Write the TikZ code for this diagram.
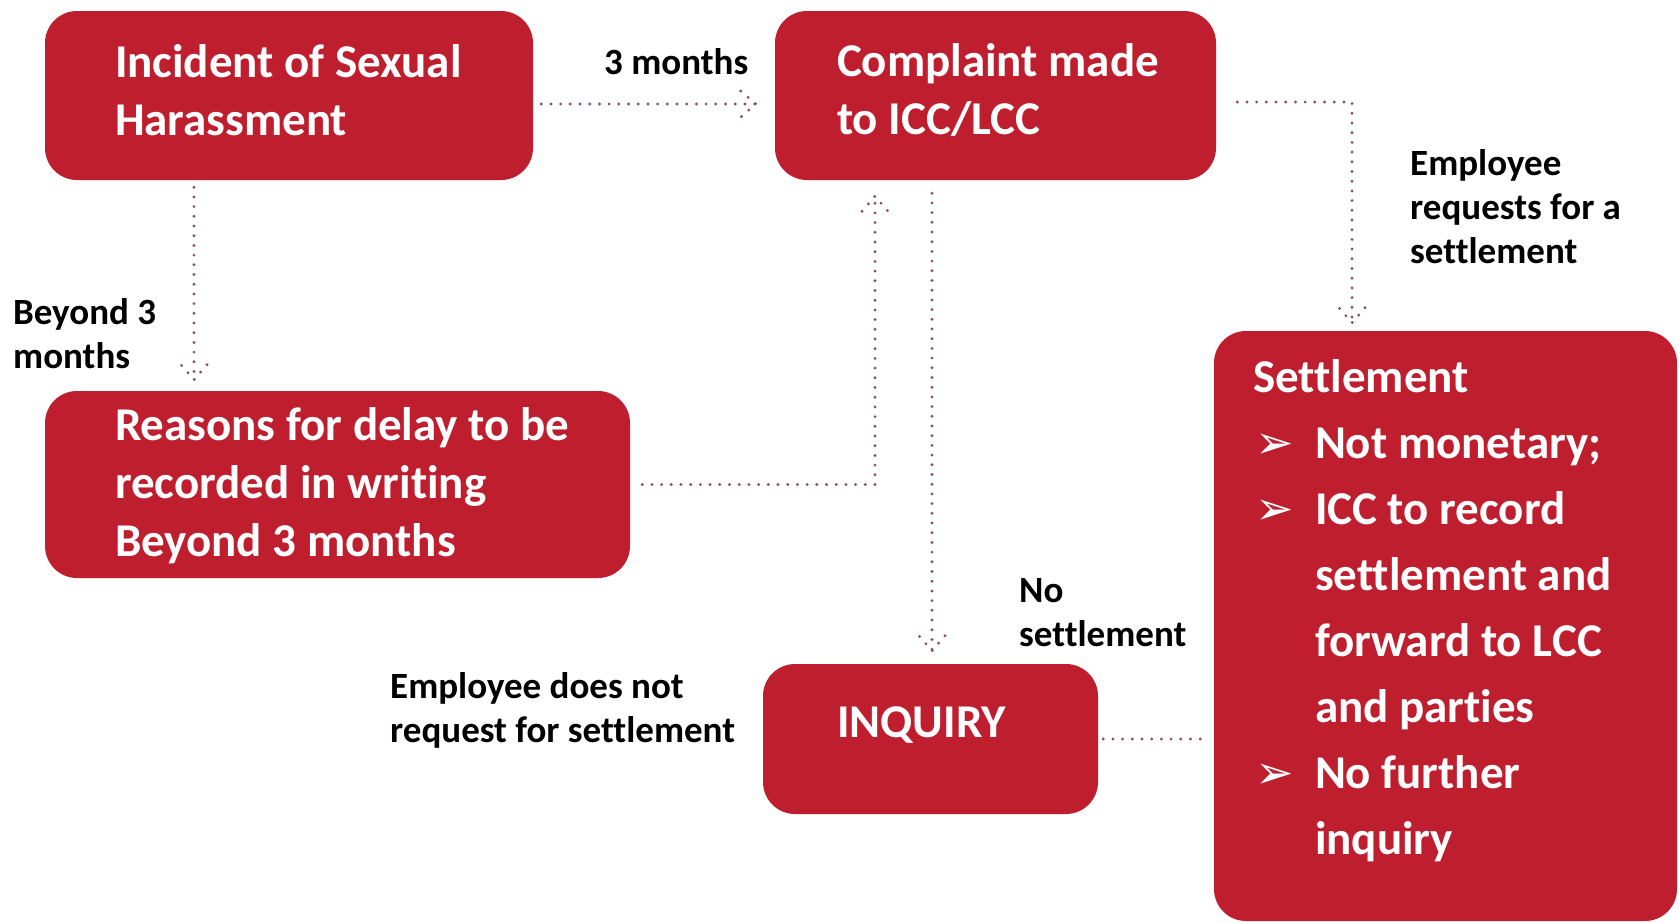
\documentclass[tikz,border=0pt]{standalone}
\usepackage{fontspec}
\setmainfont{Carlito}[Ligatures=NoCommon]
\newfontfamily\symfont{DejaVu Sans}
\usetikzlibrary{calc,decorations.markings}

\definecolor{boxred}{HTML}{BE1E2D}
\definecolor{dotred}{HTML}{8E4D5B}

\newcommand{\tipsym}{\makebox[62pt][l]{\hspace*{2pt}{\symfont\fontsize{46}{46}\selectfont ➢}}}
\newcommand{\tipgap}{\hspace*{62pt}}

\tikzset{
  stage/.style={draw=none, fill=boxred, rounded corners=32pt, inner sep=0pt},
  stagetext/.style={text=white, font=\fontsize{47}{58}\selectfont\bfseries, align=left, inner sep=0pt, anchor=west},
  note/.style={font=\fontsize{37}{44}\selectfont\bfseries, align=left, inner sep=0pt, anchor=base west},
  flow/.style={draw=dotred, line width=3.2pt, line cap=round, dash pattern=on 0pt off 9.7pt},
  tip/.style={postaction={decorate, decoration={markings, mark=at position 1 with {\draw[flow] (-15pt,13pt) -- (0pt,0pt) -- (-15pt,-13pt);}}}}
}

\begin{document}
\begin{tikzpicture}[x=1pt,y=-1pt]
  \useasboundingbox (0,0) rectangle (1679,922);

  % boxes
  \node[stage, minimum width=488pt, minimum height=169pt] (inc) at (289,95.5) {};
  \node[stage, minimum width=441pt, minimum height=169pt] (cmp) at (995.5,95.5) {};
  \node[stage, minimum width=585pt, minimum height=187pt] (rsn) at (337.5,484.5) {};
  \node[stage, minimum width=335pt, minimum height=150pt] (inq) at (930.5,739) {};
  \node[stage, minimum width=463pt, minimum height=590pt] (stl) at (1445.5,626) {};

  % box texts
  \node[stagetext] (inctext) at ($(inc.west)+(70,-5.5)$) {Incident of Sexual\\Harassment};
  \node[stagetext] (cmptext) at ($(cmp.west)+(62,-5.5)$) {Complaint made\\to ICC/LCC};
  \node[stagetext] (rsntext) at ($(rsn.west)+(70,1.5)$) {Reasons for delay to be\\recorded in writing\\Beyond 3 months};
  \node[stagetext] (inqtext) at ($(inq.west)+(74,-14)$) {INQUIRY};
  \node[stagetext, font=\fontsize{47}{66}\selectfont\bfseries] (stltext) at ($(stl.west)+(39,-15.5)$)
    {Settlement\\
     \tipsym Not monetary;\\
     \tipsym ICC to record\\
     \tipgap settlement and\\
     \tipgap forward to LCC\\
     \tipgap and parties\\
     \tipsym No further\\
     \tipgap inquiry};

  % labels
  \node[note] (lblthree) at (604,74) {3 months};
  \node[note] (lblbeyond) at (13,368) {Beyond 3\\months};
  \node[note] (lblrequest) at (1410,263) {Employee\\requests for a\\settlement};
  \node[note] (lblnosettle) at (1019,646) {No\\settlement};
  \node[note] (lblnorequest) at (390,742) {Employee does not\\request for settlement};

  % connectors
  \draw[flow, tip] ($(inc.east)+(8,8.5)$) -- ($(cmp.west)+(-19,8.5)$);
  \draw[flow, tip] ($(inc.south)+(-95,7)$) -- ($(rsn.north)+(-143.5,-11)$);
  \draw[flow, tip] ($(rsn.east)+(12,0)$) -| ($(cmp.south)+(-120.5,16)$);
  \draw[flow, tip] ($(cmp.south)+(-63.5,13)$) -- ($(inq.north)+(1.5,-13)$);
  \draw[flow, tip] ($(cmp.east)+(21,6.5)$) -| ($(stl.north)+(-93.5,-8)$);
  \draw[flow] ($(inq.east)+(5,0)$) -- ($(inq.east -| stl.west)+(-4,0)$);
\end{tikzpicture}
\end{document}
